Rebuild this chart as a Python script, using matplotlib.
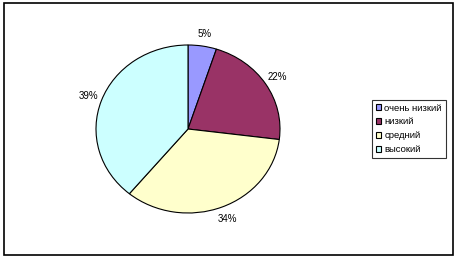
import matplotlib.pyplot as plt
from matplotlib.patches import Rectangle

labels = ["очень низкий", "низкий", "средний", "высокий"]
values = [5, 22, 34, 39]
colors = ["#9999FF", "#993366", "#FFFFCC", "#CCFFFF"]

plt.rcParams["font.family"] = ["Liberation Sans", "DejaVu Sans"]

fig = plt.figure(figsize=(4.58, 2.59), dpi=100)
fig.patch.set_facecolor("white")

# outer chart border
fig.add_artist(Rectangle((4 / 458, 4 / 259), 449 / 458, 252 / 259,
                         transform=fig.transFigure, fill=False,
                         edgecolor="black", linewidth=1.2))

# pie is slightly squashed, like the Excel original
ax = fig.add_axes([(188 - 92) / 458, 46 / 259, 184 / 458, 168 / 259])
wedges, _, autotexts = ax.pie(
    values, colors=colors, startangle=90, counterclock=False,
    autopct="%1.0f%%", pctdistance=1.15,
    wedgeprops=dict(edgecolor="black", linewidth=0.8),
    textprops=dict(fontsize=7, color="black"),
)
ax.set_aspect("auto")
ax.set_xlim(-1, 1)
ax.set_ylim(-1, 1)

leg = fig.legend(wedges, labels, loc="upper left",
                 bbox_to_anchor=(372 / 458, 159 / 259),
                 fontsize=6.8, frameon=True, fancybox=False,
                 handlelength=0.6, handleheight=0.6, handletextpad=0.3,
                 labelspacing=0.5, borderpad=0.4, borderaxespad=0)
leg.get_frame().set_edgecolor("black")
leg.get_frame().set_linewidth(0.8)

fig.savefig("out.png", dpi=100)
